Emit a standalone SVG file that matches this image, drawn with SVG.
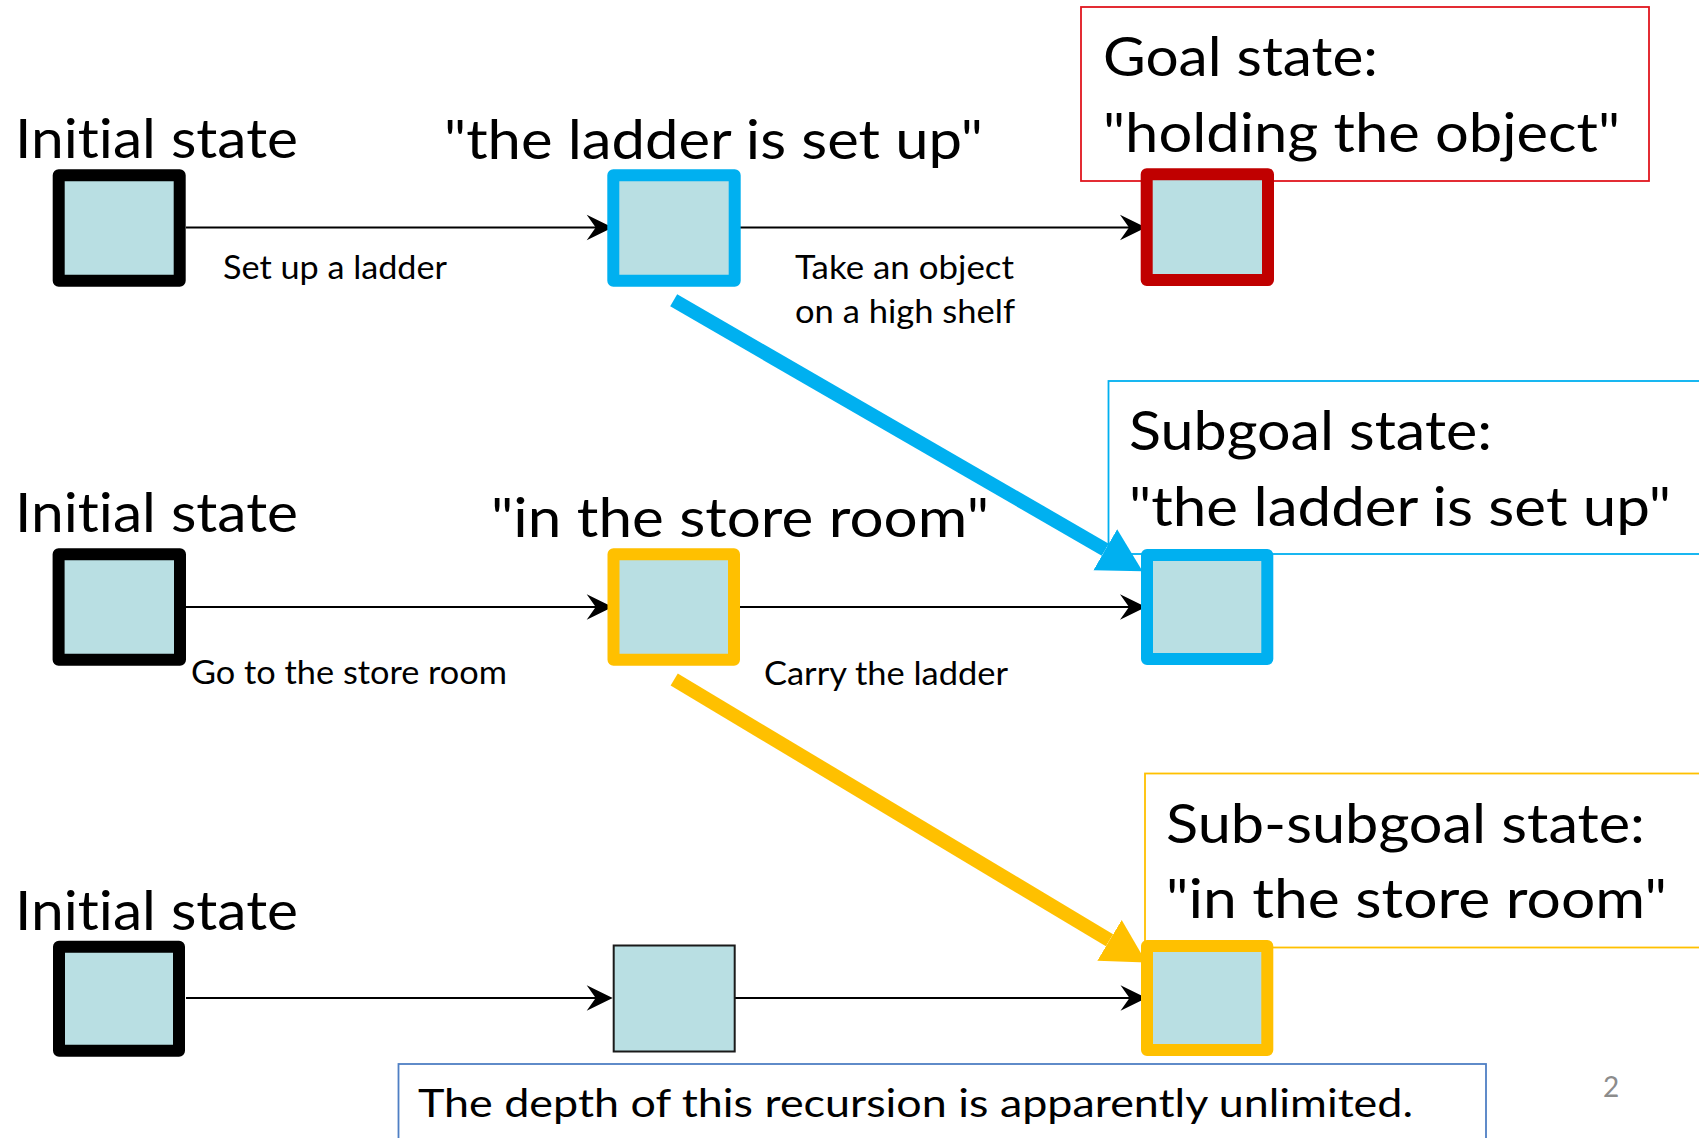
<svg xmlns="http://www.w3.org/2000/svg" width="1699" height="1138" viewBox="0 0 1699 1138">
<style>
.t{font-family:Lato,"Open Sans","Liberation Sans",sans-serif;fill:#000;font-variant-ligatures:none;font-feature-settings:"liga" 0,"clig" 0}
.big{font-size:55px}
.sm{font-size:33px}
.st{fill:#b9dfe3;stroke-width:12;stroke-linejoin:round}
.k{stroke:#000}
.b{stroke:#00b0f0}
.y{stroke:#ffc000}
.r{stroke:#c00000}
.conn{fill:none;stroke:#000;stroke-width:2}
.tb{fill:none;stroke-width:1.8}
</style>
<defs>
<marker id="ah" markerUnits="userSpaceOnUse" viewBox="-27 -14 28 28" markerWidth="28" markerHeight="28" refX="-16" refY="0" orient="auto">
<path d="M0,0 L-26,-12.7 L-17,0 L-26,12.7 z" fill="#000"/>
</marker>
<marker id="bigB" markerUnits="userSpaceOnUse" viewBox="0 -24 44 48" markerWidth="44" markerHeight="48" refX="0" refY="0" orient="auto">
<path d="M0,-23.7 L43,0 L0,23.7 z" fill="#00b0f0"/>
</marker>
<marker id="bigY" markerUnits="userSpaceOnUse" viewBox="0 -24 44 48" markerWidth="44" markerHeight="48" refX="0" refY="0" orient="auto">
<path d="M0,-23.7 L43,0 L0,23.7 z" fill="#ffc000"/>
</marker>
</defs>
<rect width="1699" height="1138" fill="#fff"/>

<g id="goal-label">
<rect class="tb" x="1081" y="7" width="568" height="174" stroke="#e0161e"/>
<text class="t big" x="1103" y="76" textLength="275" lengthAdjust="spacingAndGlyphs">Goal state:</text>
<text class="t big" x="1103" y="152" textLength="517" lengthAdjust="spacingAndGlyphs">"holding the object"</text>
</g>
<g id="subgoal-label">
<rect class="tb" x="1108.5" y="381" width="620" height="173" stroke="#00b0f0"/>
<text class="t big" x="1129" y="450" textLength="363" lengthAdjust="spacingAndGlyphs">Subgoal state:</text>
<text class="t big" x="1129" y="526" textLength="542" lengthAdjust="spacingAndGlyphs">"the ladder is set up"</text>
</g>
<g id="subsubgoal-label">
<rect class="tb" x="1145" y="773.5" width="600" height="174" stroke="#ffc000"/>
<text class="t big" x="1166" y="843" textLength="479" lengthAdjust="spacingAndGlyphs">Sub-subgoal state:</text>
<text class="t big" x="1166" y="918" textLength="501" lengthAdjust="spacingAndGlyphs">"in the store room"</text>
</g>
<g id="note">
<rect class="tb" x="398.5" y="1064" width="1087.5" height="100" stroke="#4f7fc4"/>
<text class="t" font-size="39" x="418" y="1117" textLength="995" lengthAdjust="spacingAndGlyphs">The depth of this recursion is apparently unlimited.</text>
</g>
<g id="page-number">
<text class="t" font-size="28" x="1603" y="1097" style="fill:#8c8c8c">2</text>
</g>

<g id="labels">
<text class="t big" x="15" y="158" textLength="283" lengthAdjust="spacingAndGlyphs">Initial state</text>
<text class="t big" x="444" y="159" textLength="539" lengthAdjust="spacingAndGlyphs">"the ladder is set up"</text>
<text class="t sm" x="223" y="279" textLength="224" lengthAdjust="spacingAndGlyphs">Set up a ladder</text>
<text class="t sm" x="795" y="279" textLength="219" lengthAdjust="spacingAndGlyphs">Take an object</text>
<text class="t sm" x="795" y="323" textLength="220" lengthAdjust="spacingAndGlyphs">on a high shelf</text>
<text class="t big" x="15" y="532" textLength="283" lengthAdjust="spacingAndGlyphs">Initial state</text>
<text class="t big" x="491" y="536.5" textLength="498" lengthAdjust="spacingAndGlyphs">"in the store room"</text>
<text class="t sm" x="191" y="684" textLength="316" lengthAdjust="spacingAndGlyphs">Go to the store room</text>
<text class="t sm" x="764" y="685" textLength="244" lengthAdjust="spacingAndGlyphs">Carry the ladder</text>
<text class="t big" x="15" y="930" textLength="283" lengthAdjust="spacingAndGlyphs">Initial state</text>
</g>

<g id="connectors">
<line class="conn" x1="186" y1="227.5" x2="596.7" y2="227.5" marker-end="url(#ah)"/>
<line class="conn" x1="735" y1="227.5" x2="1130" y2="227.5" marker-end="url(#ah)"/>
<line class="conn" x1="186" y1="607" x2="596.7" y2="607" marker-end="url(#ah)"/>
<line class="conn" x1="735" y1="607" x2="1130" y2="607" marker-end="url(#ah)"/>
<line class="conn" x1="186" y1="998" x2="596.7" y2="998" marker-end="url(#ah)"/>
<line class="conn" x1="735" y1="998" x2="1130.5" y2="998" marker-end="url(#ah)"/>
<line x1="673.7" y1="300.3" x2="1105.3" y2="549.7" stroke="#00b0f0" stroke-width="14" marker-end="url(#bigB)"/>
<line x1="674.2" y1="679.5" x2="1109.5" y2="940.3" stroke="#ffc000" stroke-width="14" marker-end="url(#bigY)"/>
</g>

<g id="s1-initial"><rect class="st k" x="58.7" y="175.3" width="121" height="105.4"/></g>
<g id="s1-ladder"><rect class="st b" x="613.3" y="175.3" width="121.4" height="105.4"/></g>
<g id="s1-goal"><rect class="st r" x="1146.7" y="174.3" width="121.3" height="105.7"/></g>
<g id="s2-initial"><rect class="st k" x="58.6" y="554.3" width="121.4" height="105.4"/></g>
<g id="s2-store"><rect class="st y" x="613.5" y="554.3" width="120.5" height="105.4"/></g>
<g id="s2-subgoal"><rect class="st b" x="1147" y="555" width="120.3" height="104"/></g>
<g id="s3-initial"><rect class="st k" x="59" y="946.7" width="120" height="104"/></g>
<g id="s3-mid"><rect fill="#b9dfe3" stroke="#1a1a1a" stroke-width="2" x="613.7" y="945.5" width="121" height="106"/></g>
<g id="s3-subsubgoal"><rect class="st y" x="1147" y="946" width="120.3" height="104"/></g>
</svg>
